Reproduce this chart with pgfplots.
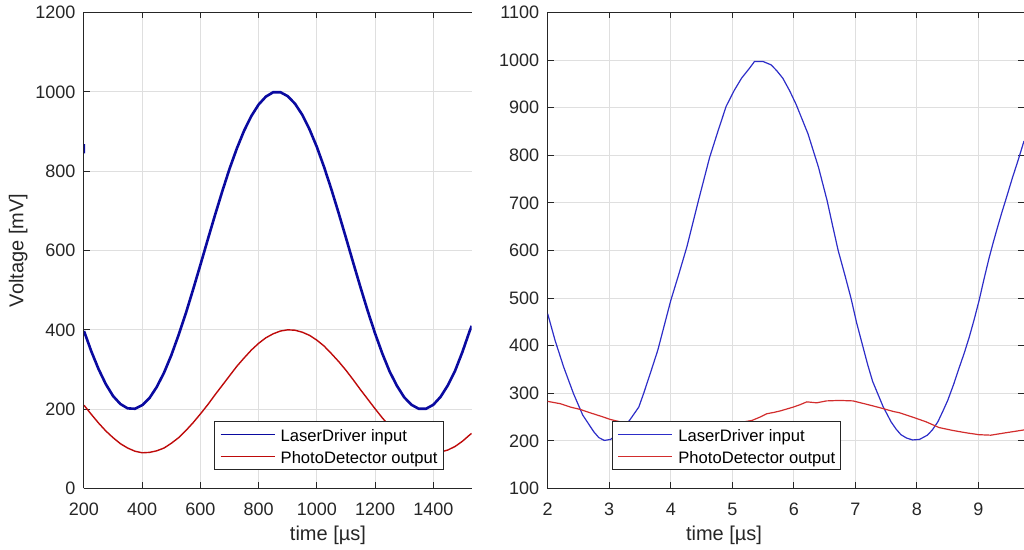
\documentclass[border=0pt]{standalone}
\usepackage{fontspec}
\setmainfont{Liberation Sans}
\usepackage{pgfplots}
\pgfplotsset{compat=1.18}
\definecolor{axcol}{RGB}{38,38,38}
\definecolor{gridcol}{RGB}{223,223,223}
\definecolor{blueL}{RGB}{10,10,160}
\definecolor{redL}{RGB}{190,10,10}
\definecolor{blueR}{RGB}{45,45,200}
\definecolor{redR}{RGB}{210,45,45}

\pgfplotsset{
 mystyle/.style={
  scale only axis,
  tick align=inside,
  major tick length=3pt,
  every tick/.append style={axcol, line width=0.5pt},
  axis line style={axcol, line width=0.5pt},
  grid=major,
  major grid style={gridcol, line width=0.5pt},
  tick label style={font=\fontsize{9}{10}\selectfont, text=axcol},
  /pgf/number format/assume math mode=true,
  /pgf/number format/1000 sep={},
  xticklabel style={anchor=base, inner sep=0pt, yshift=-13.5pt},
  yticklabel style={anchor=east, inner sep=0pt, xshift=-4.1pt},
  label style={font=\fontsize{10}{12}\selectfont, text=axcol},
  legend style={font=\fontsize{8.3}{10}\selectfont, draw=axcol, line width=0.5pt, fill=white,
    inner xsep=2.8pt, inner ysep=1pt,
    nodes={inner sep=0pt, text height=9.2pt, text depth=1.85pt},
    row sep=0pt, column sep=2.8pt, cells={anchor=west}},
  legend image code/.code={\draw[##1, line width=0.5pt] (0pt,0pt) -- (27pt,0pt);},
 }
}

\begin{document}
\begin{tikzpicture}
\path[use as bounding box] (0,0) rectangle (512pt,275pt);

\begin{axis}[mystyle, at={(42pt,30.75pt)}, anchor=south west,
  width=193.85pt, height=238pt,
  xmin=200, xmax=1532, ymin=0, ymax=1200,
  xtick={200,400,...,1400}, ytick={0,200,...,1200},
  axis x line*=box, axis y line*=left,
  xlabel={time [µs]}, ylabel={Voltage [mV]},
  xlabel style={at={(axis description cs:0.6293,-0.0987)}, anchor=center},
  ylabel style={at={(axis description cs:-0.1695,0.5)}, anchor=center},
  legend style={at={(axis description cs:0.3353,0.0389)}, anchor=south west},
]
\addplot[blueL, line width=1.3pt] coordinates {
(200,397) (225,346) (250,301) (275,263) (300,233) (325,213) (350,202) (375,201)
(400,210) (425,228) (450,256) (475,292) (500,336) (525,387) (550,442) (575,502)
(600,564) (625,627) (650,689) (675,749) (700,806) (725,857) (750,902) (775,939)
(800,968) (825,988) (850,999) (875,999) (900,989) (925,970) (950,942) (975,905)
(1000,861) (1025,810) (1050,754) (1075,694) (1100,632) (1125,569) (1150,507) (1175,447)
(1200,391) (1225,340) (1250,295) (1275,259) (1300,230) (1325,211) (1350,201) (1375,201)
(1400,211) (1425,231) (1450,260) (1475,297) (1500,344) (1525,397) (1532,410)
};
\addlegendentry{LaserDriver input}
\addplot[redL, line width=0.7pt] coordinates {
(200,210) (225,187) (250,165) (275,145) (300,128) (325,113) (350,102) (375,94)
(400,90) (425,91) (450,95) (475,102) (500,114) (525,128) (550,146) (575,166)
(600,188) (625,211) (650,236) (675,260) (700,284) (725,308) (750,329) (775,349)
(800,366) (825,380) (850,390) (875,397) (900,400) (925,399) (950,394) (975,386)
(1000,374) (1025,359) (1050,340) (1075,320) (1100,298) (1125,274) (1150,249) (1175,225)
(1200,201) (1225,178) (1250,157) (1275,138) (1300,121) (1325,108) (1350,98) (1375,92)
(1400,90) (1425,92) (1450,97) (1475,106) (1500,119) (1525,135) (1532,139)
};
\addlegendentry{PhotoDetector output}
\addplot[blueL, line width=1pt, forget plot] coordinates {(200,868) (200.6,845)};
\end{axis}

\begin{axis}[mystyle, at={(273.85pt,30.75pt)}, anchor=south west,
  width=238.15pt, height=238pt,
  xmin=2, xmax=9.74, ymin=100, ymax=1100,
  xtick={2,...,9}, ytick={100,200,...,1100},
  xlabel={time [µs]},
  xlabel style={at={(axis description cs:0.3702,-0.0987)}, anchor=center},
  legend style={at={(axis description cs:0.1344,0.0389)}, anchor=south west},
]
\addplot[blueR, line width=0.6pt] coordinates {
(2.00,467) (2.12,411) (2.26,355) (2.42,299) (2.57,254) (2.75,219) (2.83,207) (2.92,201)
(3.02,203) (3.15,215) (3.34,245) (3.48,271) (3.56,300) (3.67,343) (3.79,391) (4.00,495)
(4.13,550) (4.26,607) (4.45,705) (4.63,795) (4.77,852) (4.90,903) (5.03,936) (5.15,962)
(5.28,983) (5.36,997) (5.50,997) (5.63,990) (5.72,978) (5.82,962) (5.93,936) (6.04,906)
(6.13,877) (6.23,845) (6.31,812) (6.40,775) (6.54,705) (6.63,652) (6.72,600) (6.83,548)
(6.93,499) (7.02,448) (7.12,399) (7.20,360) (7.28,325) (7.37,297) (7.45,272) (7.58,240)
(7.66,225) (7.74,213) (7.83,206) (7.93,202) (8.04,203) (8.17,212) (8.25,223) (8.34,240)
(8.42,262) (8.50,285) (8.60,320) (8.69,355) (8.77,385) (8.85,418) (8.93,455) (9.01,495)
(9.09,540) (9.17,583) (9.24,617) (9.31,649) (9.38,680) (9.44,705) (9.55,752) (9.65,792)
(9.74,830)
};
\addlegendentry{LaserDriver input}
\addplot[redR, line width=0.6pt] coordinates {
(2.00,283) (2.21,278) (2.37,271) (2.53,266) (2.69,259) (2.86,252) (3.02,245) (3.18,240)
(3.40,236) (3.70,233) (4.00,232) (4.30,232) (4.60,233) (4.90,235) (5.10,238) (5.32,243)
(5.45,250) (5.56,257) (5.68,260) (5.78,263) (5.99,271) (6.10,276) (6.21,282) (6.37,280)
(6.53,284) (6.74,285) (6.96,284) (7.18,277) (7.39,270) (7.61,262) (7.72,259) (7.93,250)
(8.15,240) (8.36,228) (8.58,222) (8.80,217) (9.01,213) (9.20,212) (9.44,217) (9.74,223)
};
\addlegendentry{PhotoDetector output}
\end{axis}
\end{tikzpicture}
\end{document}
